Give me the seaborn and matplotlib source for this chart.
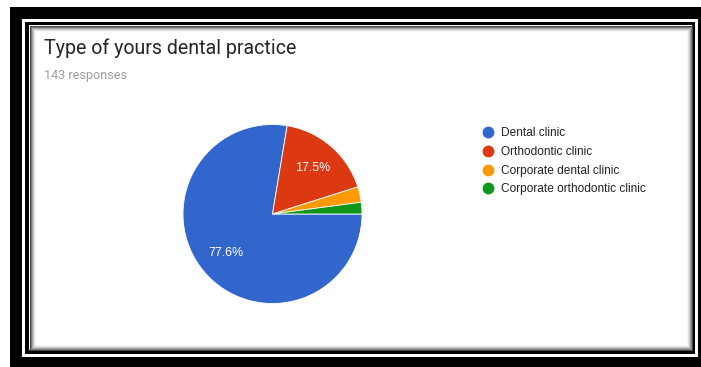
import matplotlib
matplotlib.use("Agg")
import matplotlib.pyplot as plt
from matplotlib.patches import Rectangle
from matplotlib.lines import Line2D
import seaborn as sns

# Survey answers
categories = ["Dental clinic", "Orthodontic clinic", "Corporate dental clinic",
              "Corporate orthodontic clinic"]
counts = [111, 25, 4, 3]
colors = ["#3366cc", "#dc3912", "#ff9900", "#109618"]
title = "Type of yours dental practice"
subtitle = "143 responses"

sns.set_theme(style="white")
palette = sns.color_palette(colors)

W, H = 701, 367
fig = plt.figure(figsize=(W / 100, H / 100), dpi=100)

# Background axes in pixel coordinates for the framed card
bg = fig.add_axes([0, 0, 1, 1])
bg.set_xlim(0, W)
bg.set_ylim(H, 0)
bg.axis("off")

def rect(x0, y0, x1, y1, color, **kw):
    bg.add_patch(Rectangle((x0, y0), x1 - x0, y1 - y0, facecolor=color,
                           edgecolor="none", **kw))

rect(0, 0, W, H, "white")
rect(10, 7, W, H, "black")
rect(22, 19, 698, 357, "white")
rect(25, 22, 695, 354, "black")
rect(29, 25, 692, 350, "white")
# soft inner shadow along the card edge
shades = ["#4a4a4a", "#7a7a7a", "#a5a5a5", "#c9c9c9", "#e4e4e4", "#f4f4f4"]
for i, c in enumerate(shades):
    bg.add_patch(Rectangle((29 + i + 0.5, 25 + i + 0.5), 692 - 29 - 2 * i - 1,
                           350 - 25 - 2 * i - 1, facecolor="none",
                           edgecolor=c, linewidth=0.75))

fig.text(44 / W, 1 - 48 / H, title, fontsize=14.1, color="#262626",
         family="Roboto", va="center", ha="left")
fig.text(44 / W, 1 - 75.5 / H, subtitle, fontsize=9.1, color="#9e9e9e",
         family="Roboto", va="center", ha="left")

# Pie
cx, cy, r = 272.5, 214, 89.5
ax = fig.add_axes([(cx - r) / W, 1 - (cy + r) / H, 2 * r / W, 2 * r / H])

def pct(p):
    return f"{p:.1f}%" if p > 5 else ""

wedges, texts, autotexts = ax.pie(
    counts, colors=palette, startangle=0, counterclock=False,
    autopct=pct, pctdistance=0.68,
    wedgeprops=dict(edgecolor="white", linewidth=0.6),
    textprops=dict(color="white", fontsize=8.9, family="Liberation Sans"),
)
ax.set_xlim(-1, 1)
ax.set_ylim(-1, 1)
ax.set_aspect("equal")

handles = [Line2D([], [], linestyle="none", marker="o", markersize=7.5,
                  markerfacecolor=c, markeredgecolor=c) for c in palette]
fig.legend(handles, categories, loc="upper left",
           bbox_to_anchor=(482.6 / W, 1 - 127.4 / H), frameon=False,
           prop=dict(family="Liberation Sans", size=8.6),
           labelcolor="#222222", handlelength=0.9, handletextpad=0.64,
           labelspacing=0.56, borderpad=0, borderaxespad=0)

fig.savefig("out.png", dpi=100)
